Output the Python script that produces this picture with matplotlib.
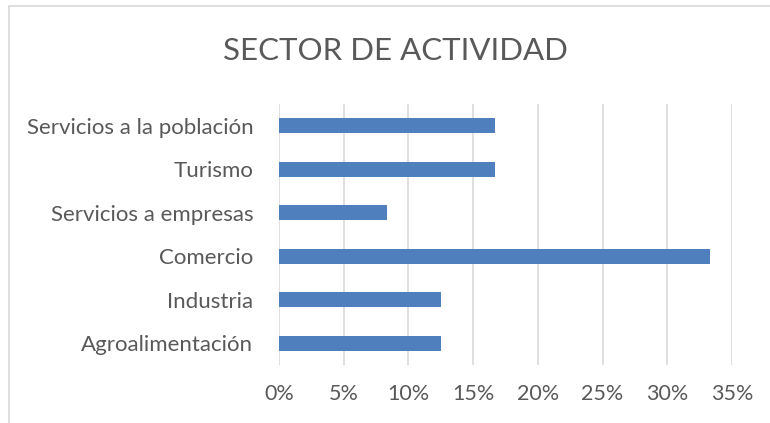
import matplotlib
matplotlib.use("Agg")
import matplotlib.pyplot as plt
from matplotlib.patches import Rectangle
from matplotlib.ticker import PercentFormatter

# Sector shares (fraction of total)
sectors = ["Agroalimentación", "Industria", "Comercio",
           "Servicios a empresas", "Turismo", "Servicios a la población"]
shares = [0.125, 0.125, 0.3333, 0.0833, 0.1667, 0.1667]
xticks = [0, 0.05, 0.10, 0.15, 0.20, 0.25, 0.30, 0.35]

text_color = "#595959"
plt.rcParams["font.family"] = ["Lato", "DejaVu Sans"]

fig = plt.figure(figsize=(7.7, 4.23), dpi=100)
ax = fig.add_axes([279 / 770, 1 - 365 / 423, 453 / 770, 261 / 423])

# outer chart border (cropped at right and bottom)
fig.patches.append(Rectangle((9 / 770, -0.1), 1.2, 1 - 6 / 423 + 0.1,
                             transform=fig.transFigure, fill=False,
                             edgecolor="#D9D9D9", linewidth=1.2))

ax.barh(range(len(sectors)), shares, height=0.35, color="#4F7FBD", zorder=3)
ax.set_ylim(-0.5, len(sectors) - 0.5)
ax.set_xlim(0, 0.35)
ax.set_xticks(xticks)
ax.xaxis.set_major_formatter(PercentFormatter(1.0, decimals=0))
ax.set_yticks(range(len(sectors)))
ax.set_yticklabels(sectors)

ax.grid(axis="x", color="#D9D9D9", linewidth=1.2, zorder=0)
for s in ax.spines.values():
    s.set_visible(False)
ax.tick_params(length=0, colors=text_color, labelsize=16)
ax.tick_params(axis="x", pad=14, labelsize=15.5)
ax.tick_params(axis="y", pad=18.5)

fig.text(395 / 770, 1 - 51 / 423, "SECTOR DE ACTIVIDAD", ha="center",
         va="center", fontsize=22.5, color=text_color)

fig.savefig("out.png", dpi=100)
